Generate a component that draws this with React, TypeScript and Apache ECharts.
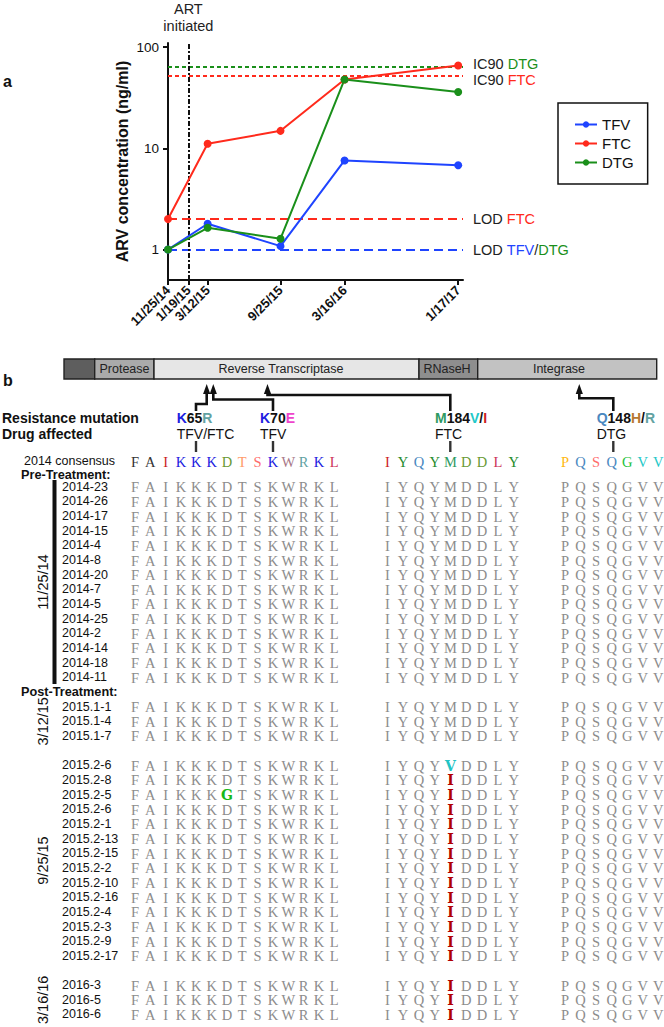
import React, { useEffect, useRef } from "react";
import * as echarts from "echarts";

// ---------------- Panel a data ----------------
const visitDates = ["2014-11-25", "2015-03-12", "2015-09-25", "2016-03-16", "2017-01-17"];
const tfvValues = [1.0, 1.8, 1.08, 7.6, 6.8];
const ftcValues = [2.0, 11.1, 14.9, 48, 66];
const dtgValues = [1.0, 1.64, 1.28, 48, 36];
const artStartDate = "2015-01-19";
const xTickDates = ["2014-11-25", "2015-01-19", "2015-03-12", "2015-09-25", "2016-03-16", "2017-01-17"];
const yTickValues = [1, 10, 100];
const ic90DTG = 64;
const ic90FTC = 52;
const lodFTC = 2;
const lodTFVDTG = 1;
const seriesNames = ["TFV", "FTC", "DTG"];

// ---------------- Panel b data ----------------
const geneRegions = ["", "Protease", "Reverse Transcriptase", "RNaseH", "Integrase"];
const resistanceMutations = [
  { wt: "K", pos: "65", mut: ["R"], drug: "TFV/FTC" },
  { wt: "K", pos: "70", mut: ["E"], drug: "TFV" },
  { wt: "M", pos: "184", mut: ["V", "I"], drug: "FTC" },
  { wt: "Q", pos: "148", mut: ["H", "R"], drug: "DTG" },
];
const consensusBlocks = ["FAIKKKDTSKWRKL", "IYQYMDDLY", "PQSQGVV"];
const consensusLabel = "2014 consensus";
const sampleNames = [
  "2014-23", "2014-26", "2014-17", "2014-15", "2014-4", "2014-8", "2014-20",
  "2014-7", "2014-5", "2014-25", "2014-2", "2014-14", "2014-18", "2014-11",
  "2015.1-1", "2015.1-4", "2015.1-7",
  "2015.2-6", "2015.2-8", "2015.2-5", "2015.2-6", "2015.2-1", "2015.2-13", "2015.2-15",
  "2015.2-2", "2015.2-10", "2015.2-16", "2015.2-4", "2015.2-3", "2015.2-9", "2015.2-17",
  "2016-3", "2016-5", "2016-6",
];
const sampleRows = [
  0, 1, 2, 3, 4, 5, 6, 7, 8, 9, 10, 11, 12, 13,
  15, 16, 17,
  19, 20, 21, 22, 23, 24, 25, 26, 27, 28, 29, 30, 31, 32,
  34, 35, 36,
];
// [sample index, block, position in block, amino acid]
const sampleMutations: [number, number, number, string][] = [
  [17, 1, 4, "V"],
  [18, 1, 4, "I"],
  [19, 0, 6, "G"],
  [19, 1, 4, "I"],
  [20, 1, 4, "I"],
  [21, 1, 4, "I"],
  [22, 1, 4, "I"],
  [23, 1, 4, "I"],
  [24, 1, 4, "I"],
  [25, 1, 4, "I"],
  [26, 1, 4, "I"],
  [27, 1, 4, "I"],
  [28, 1, 4, "I"],
  [29, 1, 4, "I"],
  [30, 1, 4, "I"],
  [31, 1, 4, "I"],
  [32, 1, 4, "I"],
  [33, 1, 4, "I"],
];
const collectionGroups = [
  { date: "11/25/14", first: 0, last: 13, bar: true },
  { date: "3/12/15", first: 15, last: 17, bar: false },
  { date: "9/25/15", first: 19, last: 32, bar: false },
  { date: "3/16/16", first: 34, last: 36, bar: false },
];
const sectionLabels = [
  { text: "Pre-Treatment:", row: -0.8 },
  { text: "Post-Treatment:", row: 14 },
];
const consensusRow = -1.75;

// ---------------- Styles ----------------
const SANS = '"Liberation Sans", Arial, sans-serif';
const SERIF = '"Liberation Serif", "DejaVu Serif", serif';
const BLUE = "#1f44ff";
const RED = "#ff2a1c";
const GREEN = "#1a8f1a";
const INK = "#111";
const GRAY = "#8c8c8c";
const seriesColors = [BLUE, RED, GREEN];
const aaColors: Record<string, string> = {
  F: "#333", A: "#333", I: "#cc1f1f", K: "#2020e0", D: "#6a9a35", T: "#ff9c6c",
  S: "#ff6c6c", W: "#a87888", R: "#62a2a2", L: "#cc3358", Y: "#238a2a", Q: "#4a88c0",
  M: "#2f9a62", P: "#ffb812", G: "#22c23a", V: "#22c8c8", E: "#ee44cc", H: "#b87830",
};
const mutColors: Record<string, string> = { G: "#18b818", V: "#22c4c4", I: "#b00000" };

const ts = (s: string) => {
  const [y, m, d] = s.split("-").map(Number);
  return Date.UTC(y, m - 1, d);
};
const fmtDate = (v: number) => {
  const d = new Date(Math.round(v));
  return `${d.getUTCMonth() + 1}/${d.getUTCDate()}/${String(d.getUTCFullYear()).slice(2)}`;
};

// layout of panel b
const geneBounds = [64, 94.7, 154, 419, 477.7, 656.7];
const geneFills = ["#5e5e5e", "#aaaaaa", "#e6e6e6", "#8e8e8e", "#c2c2c2"];
const geneTextX = [0, 124.5, 281, 447, 559];
const barTop = 359, barBottom = 379;
const mutLabelX = [176.7, 260, 435, 596.7];
const mutSiteX = [196, 273, 450.3, 613.3];
const arrowPaths = [
  [[196, 411], [196, 404], [206.7, 404], [206.7, 392]],
  [[273, 411], [273, 399.5], [213.3, 399.5], [213.3, 392]],
  [[450.3, 411], [450.3, 395], [267.5, 395], [267.5, 392]],
  [[613.3, 411], [613.3, 398.3], [579.3, 398.3], [579.3, 392]],
];
const blockLayout = [
  { left: 127.33, width: 214.6 },
  { left: 379.4, width: 142.2 },
  { left: 557.2, width: 108.9 },
];
const alignTop = 457.38;
const alignHeight = 564.41;

function buildOption() {
  const lineSeries = seriesNames.map((name, i) => {
    const vals = [tfvValues, ftcValues, dtgValues][i];
    return {
      type: "line",
      name,
      xAxisIndex: 0,
      yAxisIndex: 0,
      data: visitDates.map((d, k) => [ts(d), vals[k]]),
      symbol: "circle",
      symbolSize: 8,
      showSymbol: true,
      lineStyle: { width: 2, color: seriesColors[i] },
      itemStyle: { color: seriesColors[i] },
      z: 5,
    };
  });

  const richBase = { fontSize: 14.5, fontFamily: SANS };
  const refSeries = {
    type: "line",
    name: "ref",
    xAxisIndex: 0,
    yAxisIndex: 0,
    data: [],
    silent: true,
    z: 3,
    markLine: {
      symbol: "none",
      silent: true,
      animation: false,
      label: {
        show: true,
        position: "end",
        distance: 10,
        fontSize: 14.5,
        color: "#222",
        fontFamily: SANS,
        rich: {
          g: { ...richBase, color: GREEN },
          r: { ...richBase, color: RED },
          b: { ...richBase, color: BLUE },
        },
      },
      data: [
        { yAxis: ic90DTG, lineStyle: { color: GREEN, type: [4, 3], width: 2 }, label: { formatter: "IC90 {g|DTG}", padding: [0, 0, 6, 0] } },
        { yAxis: ic90FTC, lineStyle: { color: RED, type: [4, 3], width: 2 }, label: { formatter: "IC90 {r|FTC}", padding: [8, 0, 0, 0] } },
        { yAxis: lodFTC, lineStyle: { color: RED, type: [9, 5], width: 2 }, label: { formatter: "LOD {r|FTC}" } },
        { yAxis: lodTFVDTG, lineStyle: { color: BLUE, type: [9, 5], width: 2 }, label: { formatter: "LOD {b|TFV}/{g|DTG}" } },
        {
          xAxis: ts(artStartDate),
          lineStyle: { color: INK, type: [5, 2, 2, 2], width: 2 },
          label: { formatter: "ART\ninitiated", position: "end", distance: 9, fontSize: 14.5, lineHeight: 17, color: "#222" },
        },
      ],
    },
  };

  // ---- alignment series ----
  const blockSeries = consensusBlocks.map((seq, b) => {
    const items: { v: number[]; text: string; fill: string; bold: boolean }[] = [];
    seq.split("").forEach((aa, p) => {
      items.push({ v: [p, consensusRow], text: aa, fill: aaColors[aa] || INK, bold: false });
    });
    sampleNames.forEach((_, si) => {
      seq.split("").forEach((aa, p) => {
        const m = sampleMutations.find((x) => x[0] === si && x[1] === b && x[2] === p);
        if (m) items.push({ v: [p, sampleRows[si]], text: m[3], fill: mutColors[m[3]] || INK, bold: true });
        else items.push({ v: [p, sampleRows[si]], text: aa, fill: GRAY, bold: false });
      });
    });
    return {
      type: "custom",
      name: "block" + b,
      xAxisIndex: b + 1,
      yAxisIndex: b + 1,
      silent: true,
      data: items.map((it) => it.v),
      renderItem: (params: any, api: any) => {
        const it = items[params.dataIndex];
        const pt = api.coord([api.value(0), api.value(1)]);
        return {
          type: "text",
          x: pt[0],
          y: pt[1] + 0.5,
          style: {
            text: it.text,
            fill: it.fill,
            fontSize: it.bold ? 14 : 14.5,
            fontWeight: it.bold ? "bold" : "normal",
            fontFamily: it.bold ? '"DejaVu Serif", serif' : SERIF,
            align: "center",
            verticalAlign: "middle",
          },
        };
      },
    };
  });

  type LabelItem = { row: number; kind: string; text: string; first?: number; last?: number; bar?: boolean };
  const labelItems: LabelItem[] = [];
  labelItems.push({ row: consensusRow, kind: "consensus", text: consensusLabel });
  sectionLabels.forEach((s) => labelItems.push({ row: s.row, kind: "section", text: s.text }));
  sampleNames.forEach((n, i) => labelItems.push({ row: sampleRows[i], kind: "name", text: n }));
  collectionGroups.forEach((g) =>
    labelItems.push({ row: (g.first + g.last) / 2, kind: "group", text: g.date, first: g.first, last: g.last, bar: g.bar })
  );

  const labelSeries = {
    type: "custom",
    name: "labels",
    xAxisIndex: 1,
    yAxisIndex: 1,
    silent: true,
    data: labelItems.map((it) => [0, it.row]),
    renderItem: (params: any, api: any) => {
      const it = labelItems[params.dataIndex];
      const y = api.coord([0, api.value(1)])[1];
      if (it.kind === "name" || it.kind === "consensus") {
        return {
          type: "text",
          x: it.kind === "name" ? 62 : 24,
          y,
          style: { text: it.text, fill: INK, fontSize: 12.5, fontFamily: SANS, align: "left", verticalAlign: "middle" },
        };
      }
      if (it.kind === "section") {
        return {
          type: "text",
          x: 21,
          y,
          style: { text: it.text, fill: INK, fontSize: 12.7, fontWeight: "bold", fontFamily: SANS, align: "left", verticalAlign: "middle" },
        };
      }
      const children: any[] = [
        {
          type: "text",
          x: 43,
          y,
          rotation: Math.PI / 2,
          style: { text: it.text, fill: INK, fontSize: 14.5, fontFamily: SANS, align: "center", verticalAlign: "middle" },
        },
      ];
      if (it.bar) {
        const y0 = api.coord([0, (it.first as number) - 0.46])[1];
        const y1 = api.coord([0, (it.last as number) + 0.46])[1];
        children.push({ type: "rect", shape: { x: 52.5, y: y0, width: 4, height: y1 - y0 }, style: { fill: INK } });
      }
      return { type: "group", children };
    },
  };

  // ---- graphic elements (panel b header) ----
  const graphics: any[] = [];
  graphics.push({ type: "text", x: 3, y: 81, style: { text: "a", fill: INK, fontSize: 16, fontWeight: "bold", fontFamily: SANS, verticalAlign: "middle" } });
  graphics.push({ type: "text", x: 3, y: 380, style: { text: "b", fill: INK, fontSize: 16, fontWeight: "bold", fontFamily: SANS, verticalAlign: "middle" } });
  geneRegions.forEach((name, i) => {
    graphics.push({
      type: "rect",
      shape: { x: geneBounds[i], y: barTop, width: geneBounds[i + 1] - geneBounds[i], height: barBottom - barTop },
      style: { fill: geneFills[i], stroke: "#222", lineWidth: 1.4 },
    });
    if (name)
      graphics.push({
        type: "text",
        x: geneTextX[i],
        y: (barTop + barBottom) / 2,
        style: { text: name, fill: "#222", fontSize: 12.5, fontFamily: SANS, align: "center", verticalAlign: "middle" },
      });
  });
  arrowPaths.forEach((pts) => {
    graphics.push({ type: "polyline", shape: { points: pts }, style: { stroke: INK, lineWidth: 2.6, fill: null } });
    const tipX = pts[pts.length - 1][0];
    graphics.push({ type: "polygon", shape: { points: [[tipX, 384], [tipX - 3.6, 394], [tipX + 3.6, 394]] }, style: { fill: INK } });
  });
  graphics.push({ type: "text", x: 2, y: 418, style: { text: "Resistance mutation", fill: INK, fontSize: 14, fontWeight: "bold", fontFamily: SANS, verticalAlign: "middle" } });
  graphics.push({ type: "text", x: 2, y: 434, style: { text: "Drug affected", fill: INK, fontSize: 14, fontWeight: "bold", fontFamily: SANS, verticalAlign: "middle" } });
  resistanceMutations.forEach((m, i) => {
    const rb = { fontSize: 14, fontWeight: "bold", fontFamily: SANS };
    const rich: any = {
      w: { ...rb, fill: aaColors[m.wt], color: aaColors[m.wt] },
      n: { ...rb, fill: INK, color: INK },
    };
    let text = `{w|${m.wt}}{n|${m.pos}}`;
    m.mut.forEach((aa, k) => {
      rich["m" + k] = { ...rb, fill: aaColors[aa], color: aaColors[aa] };
      text += (k > 0 ? "{n|/}" : "") + `{m${k}|${aa}}`;
    });
    graphics.push({ type: "text", x: mutLabelX[i], y: 418, style: { text, rich, verticalAlign: "middle", fontSize: 14, fontFamily: SANS } });
    graphics.push({ type: "text", x: mutLabelX[i], y: 434, style: { text: m.drug, fill: INK, fontSize: 14, fontFamily: SANS, verticalAlign: "middle" } });
    graphics.push({ type: "line", shape: { x1: mutSiteX[i], y1: 441, x2: mutSiteX[i], y2: 452 }, style: { stroke: "#333", lineWidth: 2.4 } });
  });

  const xTicks = xTickDates.map(ts);

  return {
    animation: false,
    backgroundColor: "#fff",
    textStyle: { fontFamily: SANS },
    graphic: graphics,
    legend: {
      data: seriesNames,
      orient: "vertical",
      left: 558,
      top: 103,
      padding: [14, 14, 14, 16],
      itemWidth: 22,
      itemHeight: 8,
      itemGap: 4,
      borderColor: INK,
      borderWidth: 1.5,
      textStyle: { fontSize: 15, color: INK, fontFamily: SANS },
    },
    grid: [
      { left: 168, right: 201, top: 43, bottom: 747, containLabel: false, outerBoundsMode: "none" },
      ...blockLayout.map((b) => ({ left: b.left, width: b.width, top: alignTop, height: alignHeight, containLabel: false, outerBoundsMode: "none" })),
    ],
    xAxis: [
      {
        type: "value",
        gridIndex: 0,
        min: ts("2014-11-25"),
        max: ts("2017-01-30"),
        axisLine: { show: true, lineStyle: { color: INK, width: 2 } },
        axisTick: { show: true, length: 5, lineStyle: { color: INK, width: 2 }, customValues: xTicks },
        axisLabel: {
          customValues: xTicks,
          formatter: (v: number) => fmtDate(v),
          rotate: 45,
          fontSize: 13,
          fontWeight: "bold",
          color: INK,
          margin: 8,
          fontFamily: SANS,
          hideOverlap: false,
        },
        splitLine: { show: false },
      },
      ...consensusBlocks.map((s, i) => ({ type: "value", gridIndex: i + 1, min: -0.5, max: s.length - 0.5, show: false })),
    ],
    yAxis: [
      {
        type: "log",
        logBase: 10,
        gridIndex: 0,
        min: 0.5,
        max: 110,
        name: "ARV concentration (ng/ml)",
        nameLocation: "middle",
        nameGap: 38,
        nameTextStyle: { fontSize: 16, fontWeight: "bold", color: INK, fontFamily: SANS },
        axisLine: { show: true, lineStyle: { color: INK, width: 2 } },
        axisTick: { show: true, length: 5, lineStyle: { color: INK, width: 2 }, customValues: yTickValues },
        axisLabel: { customValues: yTickValues, fontSize: 13.5, color: INK, margin: 9, fontFamily: SANS },
        splitLine: { show: false },
        minorTick: { show: false },
      },
      ...consensusBlocks.map((_, i) => ({ type: "value", gridIndex: i + 1, min: -2, max: 36.5, inverse: true, show: false })),
    ],
    series: [refSeries, ...lineSeries, ...blockSeries, labelSeries],
  };
}

export default function App() {
  const ref = useRef<HTMLDivElement>(null);
  useEffect(() => {
    if (!ref.current) return;
    const chart = echarts.init(ref.current, undefined, { renderer: "svg" });
    chart.setOption(buildOption() as any);
    return () => chart.dispose();
  }, []);
  return <div ref={ref} style={{ position: "absolute", left: 0, top: 0, width: 664, height: 1027, background: "#fff" }} />;
}
